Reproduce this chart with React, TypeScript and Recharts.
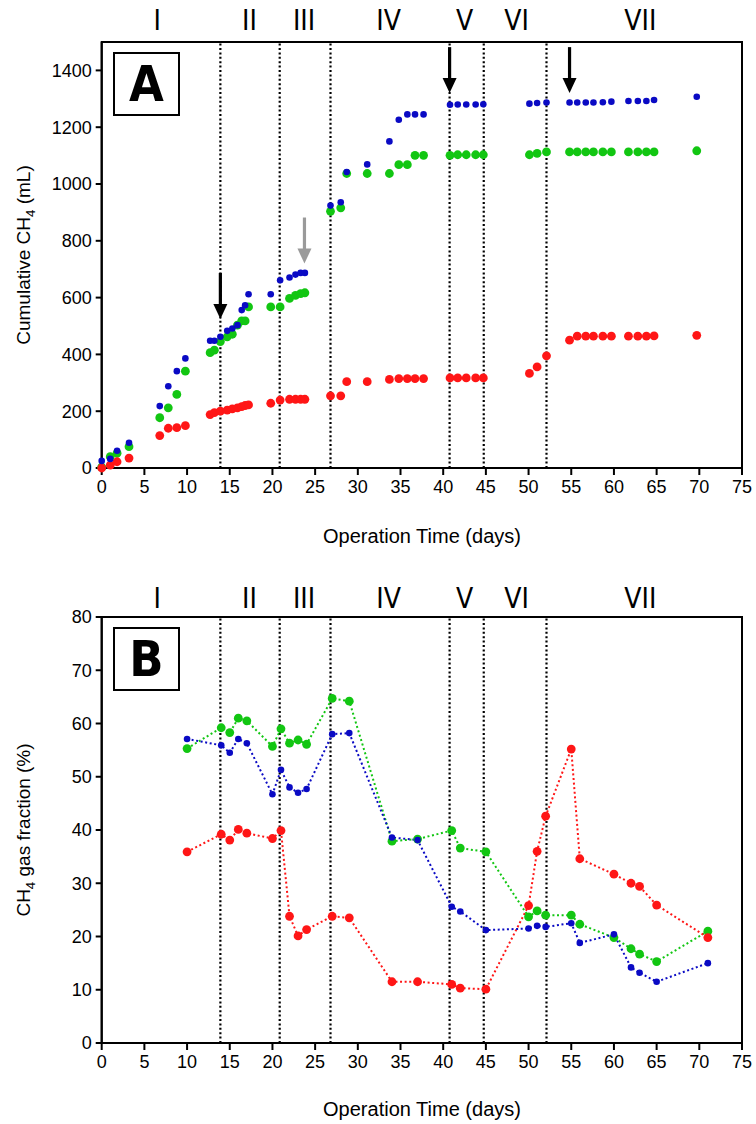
import { ComposedChart, Line, XAxis, YAxis, ReferenceLine, ReferenceDot, ReferenceArea } from "recharts"

const SANS = '"Liberation Sans", Arial, sans-serif'
const NARROW = '"Liberation Sans Narrow", "DejaVu Sans Condensed", sans-serif'
const BLUE = "#0a0ac4"
const GREEN = "#12c612"
const RED = "#ff1616"

// panel A: cumulative CH4 (mL)
const daysA = [
  0, 1, 1.8, 3.2, 6.8, 7.8, 8.8, 9.8,
  12.7, 13.2, 13.9, 14.7, 15.3, 15.9, 16.4, 16.8, 17.2, 19.8, 20.9,
  22, 22.7, 23.3, 23.8, 26.8, 28, 28.7, 31.1,
  33.7, 34.8, 35.8, 36.7, 37.7, 40.8, 41.7, 42.7, 43.8, 44.7,
  50.1, 51, 52.1, 54.8, 55.7, 56.7, 57.6, 58.7, 59.7, 61.7, 62.8, 63.8, 64.7, 69.7,
]
const blueA = [
  25, 32, 61, 89, 218, 288, 341, 386,
  448, 448, 462, 483, 491, 503, 556, 573, 612, 612, 661,
  671, 681, 687, 687, 924, 936, 1042, 1069,
  1150, 1226, 1245, 1245, 1245, 1279, 1280, 1280, 1280, 1281,
  1283, 1285, 1287, 1287, 1287, 1287, 1287, 1288, 1290, 1292, 1292, 1292, 1296, 1307,
]
const greenA = [
  3, 40, 52, 75, 177, 212, 259, 341,
  406, 415, 445, 462, 471, 503, 518, 518, 567, 567, 567,
  597, 608, 614, 617, 904, 916, 1037, 1037,
  1037, 1068, 1068, 1101, 1101, 1101, 1103, 1103, 1103, 1103,
  1103, 1108, 1113, 1113, 1113, 1113, 1113, 1113, 1113, 1113, 1113, 1113, 1113, 1117,
]
const redA = [
  0, 10, 22, 35, 114, 140, 142, 149,
  188, 195, 200, 204, 208, 212, 216, 220, 222, 228, 239,
  242, 242, 242, 242, 254, 254, 304, 304,
  312, 315, 315, 315, 315, 317, 317, 317, 317, 317,
  333, 356, 395, 450, 464, 464, 464, 464, 464, 464, 464, 464, 465, 467,
]

// panel B: CH4 gas fraction (%)
const daysB = [10, 14, 15, 16, 17, 20, 21, 22, 23, 24, 27, 29, 34, 37, 41, 42, 45, 50, 51, 52, 55, 56, 60, 62, 63, 65, 71]
const blueB = [57.1, 55.9, 54.5, 57.1, 56.3, 46.7, 51.3, 48, 47, 47.7, 58, 58.2, 38.6, 38.1, 25.6, 24.7, 21.2, 21.5, 22, 21.8, 22.5, 18.8, 20.4, 14.2, 13.2, 11.5, 15]
const greenB = [55.3, 59.2, 58.3, 61, 60.5, 55.7, 59, 56.3, 56.9, 56.1, 64.7, 64.2, 37.9, 38.3, 39.9, 36.6, 35.9, 23.7, 24.8, 24, 24, 22.3, 19.8, 17.7, 16.7, 15.3, 21]
const redB = [35.9, 39.2, 38.1, 40.1, 39.4, 38.4, 39.9, 23.8, 20.1, 21.3, 23.8, 23.5, 11.5, 11.5, 11, 10.3, 10.1, 25.8, 36, 42.6, 55.2, 34.6, 31.7, 30, 29.4, 25.9, 19.8]

const phaseNames = ["I", "II", "III", "IV", "V", "VI", "VII"]
const phaseCenters = [6.5, 17.3, 23.7, 33.6, 42.5, 48.6, 63.1]
const phaseBounds = [13.9, 20.85, 26.8, 40.75, 44.75, 52.1]

const xTicks = [0, 5, 10, 15, 20, 25, 30, 35, 40, 45, 50, 55, 60, 65, 70, 75]
const yTicksA = [0, 200, 400, 600, 800, 1000, 1200, 1400]
const yTicksB = [0, 10, 20, 30, 40, 50, 60, 70, 80]

// arrows in panel A: day, value at the tip, colour
const arrowDays = [13.9, 23.75, 40.75, 54.8]
const arrowTips = [525, 720, 1320, 1320]
const arrowColors = ["#000", "#9a9a9a", "#000", "#000"]

const tableA = daysA.map((d, i) => ({ day: d, blue: blueA[i], green: greenA[i], red: redA[i] }))
const tableB = daysB.map((d, i) => ({ day: d, blue: blueB[i], green: greenB[i], red: redB[i] }))

const tick = { fontSize: 18, fill: "#000", fontFamily: SANS }
const axisLine = { stroke: "#000", strokeWidth: 2 }

const dotOf = (color: string, r: number) => (p: any) => (
  <circle key={`${color}-${p.index}`} cx={p.cx} cy={p.cy} r={r} fill={color} stroke="none" />
)

const phaseLabel = (name: string, up: number) => (p: any) => (
  <text x={p.cx} y={p.cy - up} textAnchor="middle" fontSize={28} fontFamily={NARROW} fill="#000">{name}</text>
)

const arrowOf = (color: string) => (p: any) => (
  <g>
    <line x1={p.cx} y1={p.cy - 46} x2={p.cx} y2={p.cy - 12} stroke={color} strokeWidth={3.2} />
    <polygon points={`${p.cx - 7},${p.cy - 15} ${p.cx + 7},${p.cy - 15} ${p.cx},${p.cy}`} fill={color} />
  </g>
)

const chartMargin = { top: 42, right: 14, left: 40 }

function PanelA() {
  return (
    <ComposedChart width={756} height={540} data={tableA} margin={{ ...chartMargin, bottom: 42 }}>
      <XAxis type="number" dataKey="day" domain={[0, 75]} ticks={xTicks} interval={0} tick={tick}
        tickSize={7} tickMargin={5} height={30} axisLine={axisLine} tickLine={axisLine} />
      <YAxis type="number" domain={[0, 1500]} ticks={yTicksA} interval={0} tick={tick} width={61.7}
        tickSize={6} tickMargin={4} axisLine={axisLine} tickLine={axisLine} />
      <ReferenceArea x1={0} x2={75} y1={0} y2={1500} fill="none" stroke="#000" strokeWidth={2} />
      {phaseBounds.map(b => (
        <ReferenceLine key={b} x={b} stroke="#000" strokeWidth={2.2} strokeDasharray="2 2.4" />
      ))}
      <Line dataKey="green" stroke="none" dot={dotOf(GREEN, 4.4)} activeDot={false} isAnimationActive={false} />
      <Line dataKey="red" stroke="none" dot={dotOf(RED, 4.4)} activeDot={false} isAnimationActive={false} />
      <Line dataKey="blue" stroke="none" dot={dotOf(BLUE, 3.3)} activeDot={false} isAnimationActive={false} />
      {arrowDays.map((d, i) => (
        <ReferenceDot key={d} x={d} y={arrowTips[i]} ifOverflow="visible" shape={arrowOf(arrowColors[i])} />
      ))}
      {phaseNames.map((n, i) => (
        <ReferenceDot key={n} x={phaseCenters[i]} y={1500} ifOverflow="visible" shape={phaseLabel(n, 12)} />
      ))}
    </ComposedChart>
  )
}

function PanelB() {
  return (
    <ComposedChart width={756} height={549} data={tableB} margin={{ ...chartMargin, bottom: 51 }}>
      <XAxis type="number" dataKey="day" domain={[0, 75]} ticks={xTicks} interval={0} tick={tick}
        tickSize={7} tickMargin={5} height={30} axisLine={axisLine} tickLine={axisLine} />
      <YAxis type="number" domain={[0, 80]} ticks={yTicksB} interval={0} tick={tick} width={61.7}
        tickSize={6} tickMargin={4} axisLine={axisLine} tickLine={axisLine} />
      <ReferenceArea x1={0} x2={75} y1={0} y2={80} fill="none" stroke="#000" strokeWidth={2} />
      {phaseBounds.map(b => (
        <ReferenceLine key={b} x={b} stroke="#000" strokeWidth={2.2} strokeDasharray="2 2.4" />
      ))}
      <Line dataKey="green" stroke={GREEN} strokeWidth={2} strokeDasharray="2 2.6" dot={dotOf(GREEN, 4.4)} activeDot={false} isAnimationActive={false} />
      <Line dataKey="red" stroke={RED} strokeWidth={2} strokeDasharray="2 2.6" dot={dotOf(RED, 4.4)} activeDot={false} isAnimationActive={false} />
      <Line dataKey="blue" stroke={BLUE} strokeWidth={2} strokeDasharray="2 2.6" dot={dotOf(BLUE, 3.3)} activeDot={false} isAnimationActive={false} />
      {phaseNames.map((n, i) => (
        <ReferenceDot key={n} x={phaseCenters[i]} y={80} ifOverflow="visible" shape={phaseLabel(n, 9)} />
      ))}
    </ComposedChart>
  )
}

const letterBox = (left: number, top: number): React.CSSProperties => ({
  position: "absolute", left, top, width: 67, height: 64, boxSizing: "border-box",
  border: "2px solid #000", background: "#fff", textAlign: "center",
  fontFamily: NARROW, fontWeight: "bold", fontSize: 50, lineHeight: "60px",
})

const xTitle = (top: number): React.CSSProperties => ({
  position: "absolute", left: 272, top, width: 300, textAlign: "center", fontSize: 20, fontFamily: SANS,
})

const yTitle = (cy: number): React.CSSProperties => ({
  position: "absolute", left: 24 - 150, top: cy - 12, width: 300, height: 24, lineHeight: "24px",
  textAlign: "center", fontSize: 19, fontFamily: SANS, transform: "rotate(-90deg)",
})

export default function App() {
  return (
    <div style={{ position: "absolute", left: 0, top: 0, width: 756, height: 1124, background: "#fff", overflow: "hidden" }}>
      <div style={{ position: "absolute", left: 0, top: 0 }}><PanelA /></div>
      <div style={{ position: "absolute", left: 0, top: 575 }}><PanelB /></div>
      <div style={letterBox(113, 52)}>A</div>
      <div style={letterBox(113, 627)}>B</div>
      <div style={xTitle(525)}>Operation Time (days)</div>
      <div style={xTitle(1098)}>Operation Time (days)</div>
      <div style={yTitle(255)}>Cumulative CH<sub style={{ fontSize: "0.7em" }}>4</sub> (mL)</div>
      <div style={yTitle(830)}>CH<sub style={{ fontSize: "0.7em" }}>4</sub> gas fraction (%)</div>
    </div>
  )
}
